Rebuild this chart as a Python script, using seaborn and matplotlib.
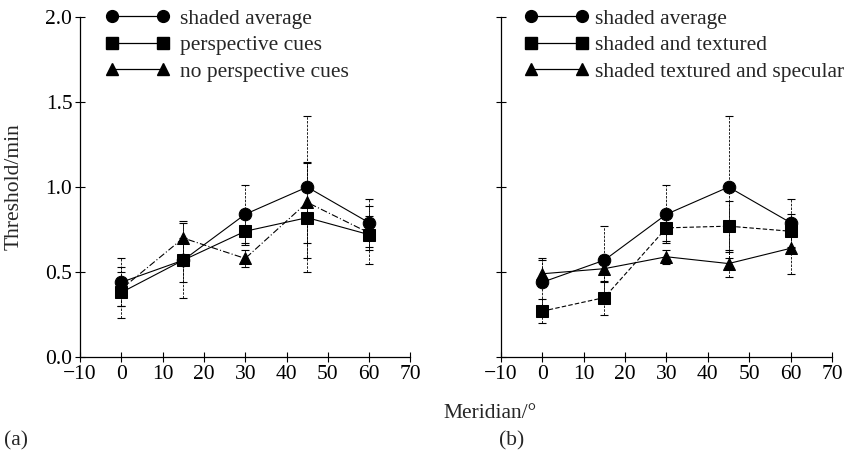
import numpy as np
import pandas as pd
import matplotlib
matplotlib.use("Agg")
import matplotlib.pyplot as plt
import seaborn as sns
from matplotlib.lines import Line2D

sns.set_theme(style="ticks")
plt.rcParams['font.family'] = ['Liberation Serif', 'DejaVu Serif']

meridian = [0, 15, 30, 45, 60]

# panel (a)
a_shaded = [0.44, 0.57, 0.84, 1.00, 0.79]
a_shaded_err = [0.14, 0.22, 0.17, 0.42, 0.14]
a_persp = [0.38, 0.57, 0.74, 0.82, 0.72]
a_persp_err = [0.15, 0.13, 0.08, 0.32, 0.17]
a_noper = [0.40, 0.70, 0.58, 0.91, 0.73]
a_noper_err = [0.10, 0.10, 0.05, 0.24, 0.10]

# panel (b)
b_shaded = [0.44, 0.57, 0.84, 1.00, 0.79]
b_shaded_err = [0.14, 0.20, 0.17, 0.42, 0.14]
b_text = [0.27, 0.35, 0.76, 0.77, 0.74]
b_text_err = [0.07, 0.10, 0.08, 0.15, 0.10]
b_spec = [0.49, 0.52, 0.59, 0.55, 0.64]
b_spec_err = [0.08, 0.08, 0.04, 0.08, 0.15]

labels_a = ["shaded average", "perspective cues", "no perspective cues"]
labels_b = ["shaded average", "shaded and textured", "shaded textured and specular"]
markers = ["o", "s", "^"]
styles_a = ["-", "-", (0, (6, 2, 1, 2))]
styles_b = ["-", (0, (4, 2)), "-"]

FS = 15.5

fig = plt.figure(figsize=(8.65, 4.59), dpi=100)
ax1 = fig.add_axes([0.0925, 0.222, 0.382, 0.741])
ax2 = fig.add_axes([0.579, 0.222, 0.383, 0.741])

def draw(ax, series, errs, labels, styles, show_ylabels, legx, tpad):
    handles = []
    for vals, err, lab, mk, ls in zip(series, errs, labels, markers, styles):
        df = pd.DataFrame({"Meridian": meridian, "Threshold": vals})
        eb = ax.errorbar(df["Meridian"], df["Threshold"], yerr=err, fmt="none",
                         ecolor="black", elinewidth=0.6, capsize=3, capthick=0.8)
        for c in eb[2]:
            c.set_linestyle((0, (3, 1.5)))
        sns.lineplot(data=df, x="Meridian", y="Threshold", ax=ax, color="black",
                     linewidth=0.8, linestyle=ls, marker=mk, markersize=9,
                     markeredgecolor="black", markerfacecolor="black")
        handles.append(Line2D([0], [0], color="black", linewidth=0.9, linestyle="-",
                              marker=mk, markersize=8.5, markerfacecolor="black"))
    ax.legend(handles, labels, loc="upper left", bbox_to_anchor=(legx, 1.05),
              frameon=False, numpoints=2, handlelength=3.0, fontsize=FS,
              labelspacing=0.3, handletextpad=tpad, borderaxespad=0)
    ax.set_xlim(-10, 70)
    ax.set_ylim(0, 2.0)
    ax.set_xticks(range(-10, 71, 10))
    ax.set_yticks([0.0, 0.5, 1.0, 1.5, 2.0])
    ax.set_xticklabels(["\u221210"] + [str(v) for v in range(0, 71, 10)], fontsize=FS)
    if show_ylabels:
        ax.set_yticklabels(["0.0", "0.5", "1.0", "1.5", "2.0"], fontsize=FS)
    else:
        ax.set_yticklabels([])
    ax.tick_params(direction="inout", length=7, width=0.8, colors="black", pad=2)
    ax.set_xlabel("")
    ax.set_ylabel("")
    for s in ["top", "right"]:
        ax.spines[s].set_visible(False)
    for s in ["left", "bottom"]:
        ax.spines[s].set_linewidth(0.9)
        ax.spines[s].set_color("black")

draw(ax1, [a_shaded, a_persp, a_noper], [a_shaded_err, a_persp_err, a_noper_err],
     labels_a, styles_a, True, 0.05, 0.5)
draw(ax2, [b_shaded, b_text, b_spec], [b_shaded_err, b_text_err, b_spec_err],
     labels_b, styles_b, False, 0.045, 0.3)

fig.text(0.016, 0.593, "Threshold/min", rotation=90, ha="center", va="center", fontsize=FS)
fig.text(0.567, 0.10, "Meridian/\u00b0", ha="center", va="center", fontsize=FS)
fig.text(0.019, 0.04, "(a)", ha="center", va="center", fontsize=FS)
fig.text(0.591, 0.04, "(b)", ha="center", va="center", fontsize=FS)

fig.savefig("out.png", dpi=100)
